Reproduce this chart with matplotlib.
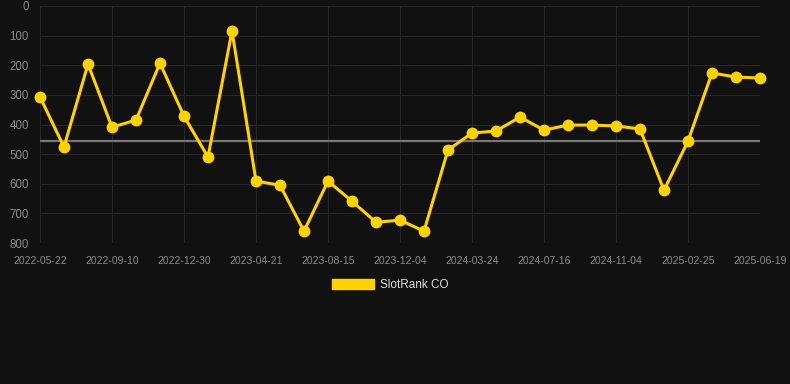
import numpy as np
import matplotlib.pyplot as plt
from matplotlib.patches import Patch

dates = ['2022-05-22', '2022-09-10', '2022-12-30', '2023-04-21', '2023-08-15', '2023-12-04',
         '2024-03-24', '2024-07-16', '2024-11-04', '2025-02-25', '2025-06-19']

# rank values, one per point (every 3rd point gets a date label)
ranks = [307, 476, 196, 409, 385, 193, 372, 510, 84, 591,
         605, 760, 591, 659, 730, 723, 760, 486, 429, 422,
         375, 419, 402, 402, 405, 415, 622, 456, 226, 240, 243]
average = 455

bg = '#111111'
yellow = '#FFD200'

plt.rcParams['font.family'] = ['Liberation Sans', 'DejaVu Sans']

fig = plt.figure(figsize=(7.9, 3.84), dpi=100, facecolor=bg)
ax = fig.add_axes([40/790, 1 - 243/384, 720/790, 237/384])
ax.set_facecolor(bg)

x = np.arange(len(ranks))
ax.plot(x, ranks, color=yellow, lw=2.2, marker='o', ms=7.5, zorder=3,
        label='SlotRank CO', clip_on=False)
ax.plot([x[0], x[-1]], [average, average], color='#777777', lw=1.6, zorder=2)

ax.set_xlim(0, len(ranks) - 1)
ax.set_ylim(800, 0)
ax.set_yticks(np.arange(0, 801, 100))
ax.set_xticks(x[::3])
ax.set_xticklabels(dates)

ax.grid(True, color='#262626', lw=0.8)
for s in ax.spines.values():
    s.set_visible(False)
ax.tick_params(axis='both', length=0, colors='#8a8a8a')
ax.tick_params(axis='y', labelsize=8.3, pad=8)
ax.tick_params(axis='x', labelsize=7.5, pad=9)

leg = fig.legend(handles=[Patch(color=yellow, label='SlotRank CO')],
                 loc='center', bbox_to_anchor=(390/790, 1 - 285/384),
                 frameon=False, fontsize=8.5, handlelength=3.6, handleheight=1.0,
                 handletextpad=0.5)
for t in leg.get_texts():
    t.set_color('#dddddd')

fig.savefig('out.png', dpi=100, facecolor=bg)
